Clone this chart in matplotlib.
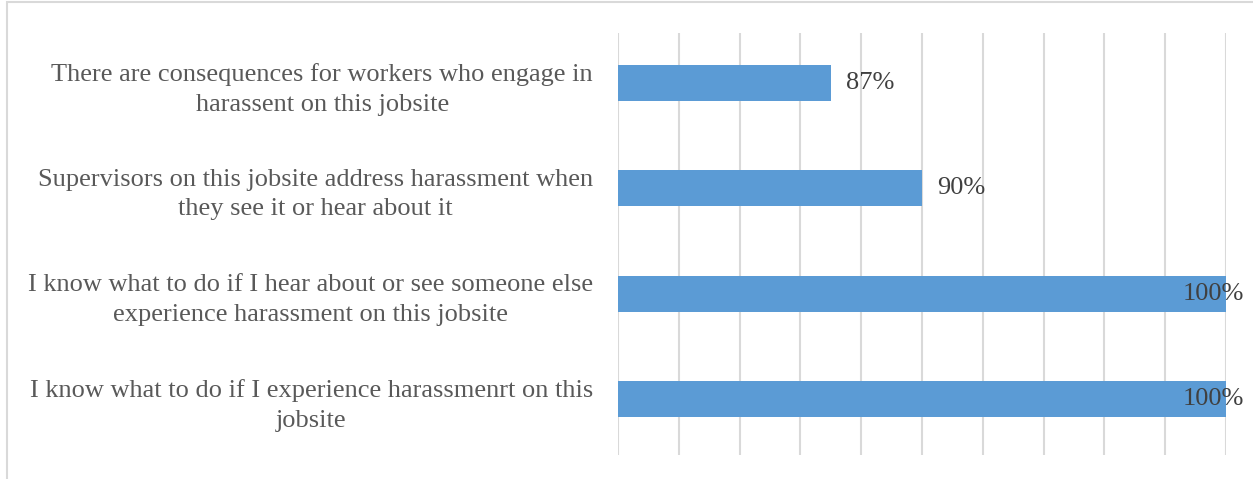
#!/usr/bin/env python3
"""
Horizontal bar chart of jobsite harassment survey agreement.
"""

import matplotlib.pyplot as plt
from matplotlib.patches import Rectangle
from matplotlib.ticker import MultipleLocator

statements = [
    "I know what to do if I experience harassmenrt on this\njobsite",
    "I know what to do if I hear about or see someone else\nexperience harassment on this jobsite",
    "Supervisors on this jobsite address harassment when\nthey see it or hear about it",
    "There are consequences for workers who engage in\nharassent on this jobsite",
]
agree_pct = [100, 100, 90, 87]
value_labels = ["100%", "100%", "90%", "87%"]

plt.rcParams['font.family'] = ['Liberation Serif', 'DejaVu Serif']

fig = plt.figure(figsize=(12.53, 4.79), dpi=100)
ax = fig.add_axes([618 / 1253, 1 - 455 / 479, 608 / 1253, 422 / 479])

# light chart-area border
fig.patches.append(Rectangle((6.5 / 1253, -0.1), 1.2, 1 - 2.5 / 479 + 0.1,
                             transform=fig.transFigure, fill=False,
                             edgecolor='#d9d9d9', linewidth=1.5))

y = range(len(statements))
ax.barh(y, agree_pct, height=0.34, color='#5b9bd5', zorder=2)

ax.set_xlim(80, 100)
ax.set_ylim(-0.532, len(statements) - 0.525)
ax.xaxis.set_major_locator(MultipleLocator(2))
ax.grid(axis='x', color='#d9d9d9', linewidth=1.5, zorder=0)
ax.tick_params(axis='x', which='both', bottom=False, labelbottom=False)
ax.tick_params(axis='y', length=0, pad=18)
ax.set_yticks(list(y))
ax.set_yticklabels(statements, fontsize=19, color='#595959',
                   multialignment='center', linespacing=1.45)
for side in ax.spines.values():
    side.set_visible(False)

# value labels: outside the bar end, pulled back when at the axis maximum
for i, (v, lab) in enumerate(zip(agree_pct, value_labels)):
    if v >= 100:
        ax.annotate(lab, xy=(v, i), xytext=(18, 0), textcoords='offset pixels',
                    ha='right', va='center', fontsize=19, color='#404040',
                    annotation_clip=False, zorder=3)
    else:
        ax.annotate(lab, xy=(v, i), xytext=(15, 0), textcoords='offset pixels',
                    ha='left', va='center', fontsize=19, color='#404040',
                    zorder=3)

fig.savefig("out.png", dpi=100)
